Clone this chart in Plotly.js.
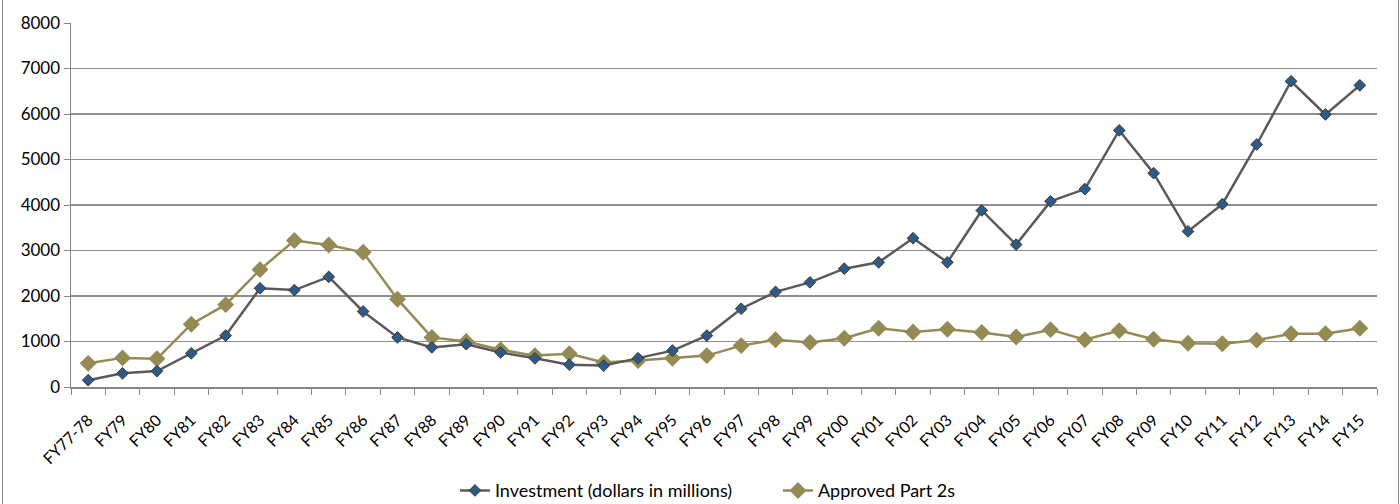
<!DOCTYPE html>
<html>
<head>
<meta charset="utf-8">
<script src="https://cdn.plot.ly/plotly-3.0.1.min.js"></script>
<style>
html,body{margin:0;padding:0;background:#fff;overflow:hidden;}
#wrap{position:absolute;left:2px;top:-2px;width:1397px;height:510px;border:1px solid #8c8c8c;box-sizing:border-box;}
#chart{position:absolute;left:-3px;top:2px;width:1400px;height:504px;}
</style>
</head>
<body>
<div id="wrap"><div id="chart"></div></div>
<script>
const categories = ["FY77-78","FY79","FY80","FY81","FY82","FY83","FY84","FY85","FY86","FY87","FY88","FY89","FY90","FY91","FY92","FY93","FY94","FY95","FY96","FY97","FY98","FY99","FY00","FY01","FY02","FY03","FY04","FY05","FY06","FY07","FY08","FY09","FY10","FY11","FY12","FY13","FY14","FY15"];
const investment = [150,300,350,740,1130,2170,2130,2420,1660,1090,870,940,760,630,490,470,630,800,1130,1720,2090,2300,2600,2740,3270,2740,3880,3130,4080,4350,5640,4700,3420,4020,5330,6720,5990,6630];
const approvedPart2s = [520,640,620,1380,1810,2580,3220,3120,2960,1930,1090,1000,820,690,730,540,580,630,690,910,1040,980,1070,1290,1210,1270,1200,1100,1260,1040,1240,1050,960,950,1030,1170,1170,1290];
const yTicks = [0,1000,2000,3000,4000,5000,6000,7000,8000];

const traces = [
  {
    x: categories, y: investment, type: 'scatter', mode: 'lines+markers',
    name: 'Investment (dollars in millions)',
    line: {color: '#5a5a5a', width: 2.5},
    marker: {symbol: 'diamond', size: 9, color: '#2e5a8a', line: {color: '#3a3a2a', width: 1}}
  },
  {
    x: categories, y: approvedPart2s, type: 'scatter', mode: 'lines+markers',
    name: 'Approved Part 2s',
    line: {color: '#948a54', width: 2.5},
    marker: {symbol: 'diamond', size: 13, color: '#948a54', line: {color: '#948a54', width: 0}}
  }
];
traces.reverse();

const layout = {
  width: 1400, height: 504,
  margin: {l: 71, r: 23, t: 22, b: 118, autoexpand: false},
  paper_bgcolor: 'rgba(0,0,0,0)', plot_bgcolor: '#fff',
  font: {family: 'Lato, "Open Sans", sans-serif', size: 16, color: '#000'},
  showlegend: true,
  legend: {orientation: 'h', x: 0.294, xanchor: 'left', y: -0.285, yanchor: 'middle', traceorder: 'reversed',
           entrywidth: 278, font: {size: 18}},
  xaxis: {
    type: 'category', range: [-0.5, 37.5], autorange: false, automargin: false,
    tickangle: -45, tickson: 'boundaries', ticks: 'outside', ticklen: 6, tickcolor: '#868686',
    ticklabelstandoff: 16,
    showline: true, linecolor: '#868686', linewidth: 1.5, showgrid: false, zeroline: false,
    tickfont: {size: 16}
  },
  yaxis: {
    range: [0, 8000], autorange: false, automargin: false, tickvals: yTicks, ticks: 'outside', ticklen: 6, tickcolor: '#868686',
    showline: true, linecolor: '#868686', linewidth: 1.5,
    showgrid: true, gridcolor: '#8e8e8e', gridwidth: 1.5, zeroline: false,
    tickfont: {size: 17}
  }
};
Plotly.newPlot('chart', traces, layout, {displayModeBar: false, staticPlot: true});
</script>
</body>
</html>
